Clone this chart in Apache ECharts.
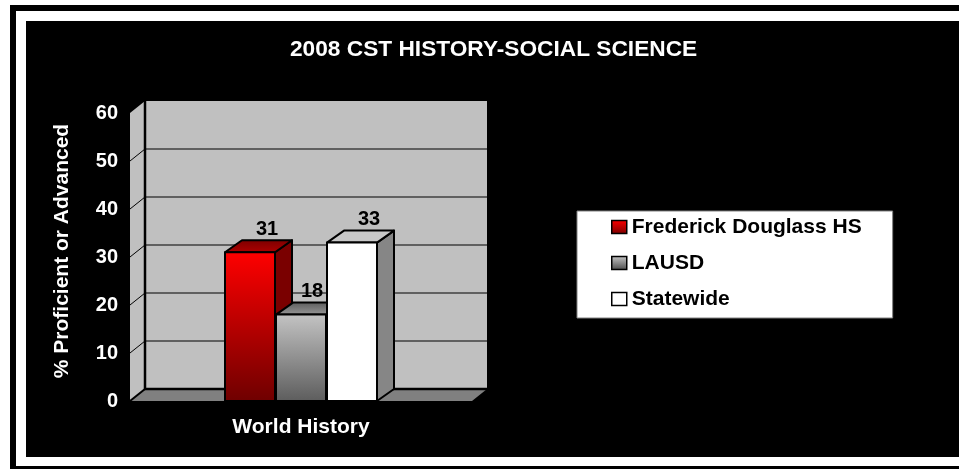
<!DOCTYPE html>
<html>
<head>
<meta charset="utf-8">
<script src="https://cdn.jsdelivr.net/npm/echarts@6/dist/echarts.min.js"></script>
<style>
  html, body { margin: 0; padding: 0; background: #ffffff; }
  #chart { width: 959px; height: 469px; }
</style>
</head>
<body>
<div id="chart"></div>
<script>
// ---- data ----
const categories = ['World History'];
const seriesNames = ['Frederick Douglass HS', 'LAUSD', 'Statewide'];
const fdhsValues = [31];
const lausdValues = [18];
const statewideValues = [33];
const yTicks = [0, 10, 20, 30, 40, 50, 60];
const titleText = '2008 CST HISTORY-SOCIAL SCIENCE';
const yAxisTitle = '% Proficient or Advanced';

// ---- styling ----
const FONT = '"Liberation Sans", Arial, sans-serif';
const WX = 15, WY = 12;   // wall depth
const BX = 17, BY = 12;   // bar depth
const BAR_W = 50, BAR_STEP = 51;

function grad(c1, c2) {
  return new echarts.graphic.LinearGradient(0, 0, 0, 1, [
    { offset: 0, color: c1 }, { offset: 1, color: c2 }
  ]);
}

const barStyles = [
  { front: grad('#ff0000', '#6e0000'), side: '#7a0000', top: grad('#7a0000', '#b00000'), legend: grad('#ff0000', '#7a0000') },
  { front: grad('#c4c4c4', '#5c5c5c'), side: '#5c5c5c', top: grad('#5a5a5a', '#9a9a9a'), legend: grad('#c8c8c8', '#4a4a4a') },
  { front: '#ffffff', side: '#868686', top: '#c8c8c8', legend: '#ffffff' }
];
const allValues = [fdhsValues, lausdValues, statewideValues];

const chart = echarts.init(document.getElementById('chart'), null, { renderer: 'canvas' });

function frameRender(params, api) {
  const cs = params.coordSys;
  const left = cs.x, top = cs.y, w = cs.width, h = cs.height, bottom = cs.y + cs.height;
  const children = [];
  children.push({ type: 'rect', shape: { x: left + WX, y: top - WY, width: w, height: h },
    style: { fill: '#c0c0c0' } });
  children.push({ type: 'polygon', shape: { points: [[left, top], [left + WX, top - WY], [left + WX, bottom - WY], [left, bottom]] },
    style: { fill: '#c0c0c0' } });
  yTicks.forEach(function (t) {
    if (t === 0 || t === yTicks[yTicks.length - 1]) return;
    const y = api.coord([0, t])[1];
    children.push({ type: 'line', shape: { x1: left + WX, y1: y - WY, x2: left + WX + w, y2: y - WY },
      style: { stroke: '#000', lineWidth: 1 } });
    children.push({ type: 'line', shape: { x1: left, y1: y, x2: left + WX, y2: y - WY },
      style: { stroke: '#000', lineWidth: 1 } });
  });
  children.push({ type: 'polygon', shape: { points: [[left, bottom], [left + WX, bottom - WY], [left + WX + w, bottom - WY], [left + w, bottom]] },
    style: { fill: '#808080' } });
  children.push({ type: 'polyline', shape: { points: [[left + WX, top - WY], [left + WX, bottom - WY], [left + WX + w, bottom - WY]] },
    style: { stroke: '#000', lineWidth: 2.5, fill: null } });
  children.push({ type: 'line', shape: { x1: left, y1: bottom, x2: left + WX, y2: bottom - WY },
    style: { stroke: '#000', lineWidth: 2 } });
  return { type: 'group', children: children };
}

function makeBarRender(idx) {
  return function (params, api) {
    const base = api.coord([api.value(0), 0]);
    const topPt = api.coord([api.value(0), api.value(1)]);
    const cx = topPt[0] + (idx - 1) * BAR_STEP;
    const x0 = cx - BAR_W / 2, x1 = cx + BAR_W / 2;
    const yt = topPt[1], yb = base[1];
    const st = barStyles[idx];
    const stroke = { stroke: '#000', lineWidth: 2, lineJoin: 'round' };
    // label: above the back edge of the top face, kept clear of a taller neighbour on the right
    let labelX = cx + BX;
    const next = allValues[idx + 1];
    if (next && next[params.dataIndex] > api.value(1)) {
      labelX = Math.min(labelX, cx + BAR_STEP - BAR_W / 2 - 3 - 12);
    }
    return {
      type: 'group',
      children: [
        { type: 'polygon', shape: { points: [[x1, yt], [x1 + BX, yt - BY], [x1 + BX, yb - BY], [x1, yb]] },
          style: Object.assign({ fill: st.side }, stroke) },
        { type: 'polygon', shape: { points: [[x0, yt], [x0 + BX, yt - BY], [x1 + BX, yt - BY], [x1, yt]] },
          style: Object.assign({ fill: st.top }, stroke) },
        { type: 'rect', shape: { x: x0, y: yt, width: BAR_W, height: yb - yt },
          style: Object.assign({ fill: st.front }, stroke) },
        { type: 'text', x: labelX, y: yt - BY - 1, z2: 100,
          style: { text: String(api.value(1)), fill: '#000', font: 'bold 20px ' + FONT,
            textAlign: 'center', textVerticalAlign: 'bottom' } }
      ]
    };
  };
}

const barSeries = seriesNames.map(function (name, i) {
  return {
    type: 'custom',
    name: name,
    renderItem: makeBarRender(i),
    encode: { x: 0, y: 1 },
    itemStyle: { color: barStyles[i].legend },
    data: categories.map(function (c, k) { return [k, allValues[i][k]]; }),
    z: 3
  };
});

const option = {
  backgroundColor: '#ffffff',
  animation: false,
  graphic: [
    { type: 'rect', z: -10, silent: true, shape: { x: 10, y: 5, width: 970, height: 480 }, style: { fill: '#000' } },
    { type: 'rect', z: -10, silent: true, shape: { x: 16, y: 11, width: 970, height: 455 }, style: { fill: '#fff' } },
    { type: 'rect', z: -10, silent: true, shape: { x: 26, y: 21, width: 940, height: 436 }, style: { fill: '#000' } }
  ],
  title: {
    text: titleText,
    left: 290, top: 38, padding: 0,
    textStyle: { color: '#fff', fontFamily: FONT, fontWeight: 'bold', fontSize: 22.7 }
  },
  legend: {
    orient: 'vertical',
    left: 577, top: 211,
    padding: [5, 31, 8, 34],
    itemGap: 14,
    itemWidth: 15, itemHeight: 13,
    backgroundColor: '#ffffff',
    borderColor: '#808080', borderWidth: 1,
    textStyle: { color: '#000', fontFamily: FONT, fontWeight: 'bold', fontSize: 21, lineHeight: 22 },
    data: seriesNames.map(function (n, i) {
      return { name: n, icon: 'rect', itemStyle: { color: barStyles[i].legend, borderColor: '#000', borderWidth: 1.5 } };
    })
  },
  grid: { left: 130, top: 113, width: 342, height: 288, containLabel: false },
  xAxis: {
    type: 'category',
    data: categories,
    axisLine: { show: false }, axisTick: { show: false }, splitLine: { show: false },
    axisLabel: { color: '#fff', fontFamily: FONT, fontWeight: 'bold', fontSize: 21, margin: 16 }
  },
  yAxis: {
    type: 'value', min: yTicks[0], max: yTicks[yTicks.length - 1], interval: 10,
    axisLine: { show: false }, axisTick: { show: false }, splitLine: { show: false },
    axisLabel: { color: '#fff', fontFamily: FONT, fontWeight: 'bold', fontSize: 20, margin: 12 },
    name: yAxisTitle, nameLocation: 'middle', nameRotate: 90, nameGap: 57,
    nameTextStyle: { color: '#fff', fontFamily: FONT, fontWeight: 'bold', fontSize: 21, padding: [0, 0, 0, 12] }
  },
  series: [{
    type: 'custom', name: '__frame', silent: true, z: 1,
    renderItem: frameRender, encode: { x: 0, y: 1 }, data: [[0, 0]]
  }].concat(barSeries)
};
chart.setOption(option);
</script>
</body>
</html>
